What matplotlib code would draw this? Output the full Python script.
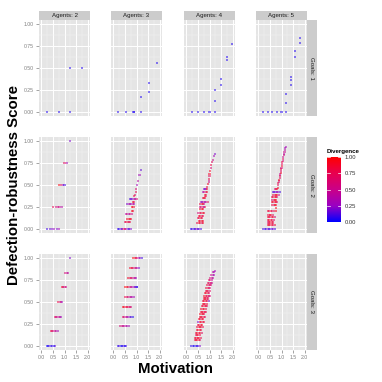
import matplotlib
matplotlib.use("Agg")
import matplotlib.pyplot as plt
from matplotlib.colors import LinearSegmentedColormap, Normalize
from matplotlib.colorbar import ColorbarBase

# ---------------- data (rows: y level, x values, divergence values) -------------
agents = [2, 3, 4, 5]
goals = [1, 2, 3]
x_ticks = [0.0, 0.5, 1.0, 1.5, 2.0]
y_ticks = [0.0, 0.25, 0.5, 0.75, 1.0]
cbar_ticks = [0.0, 0.25, 0.5, 0.75, 1.0]

g1a2_y = [0, 0.5]
g1a2_x = [[0.25, 0.75, 1.25], [1.25, 1.75]]
g1a2_c = [[0.05, 0.05, 0.05], [0.05, 0.05]]

g1a3_y = [0, 0.17, 0.22, 0.33, 0.56]
g1a3_x = [[0.2, 0.53, 0.87, 0.9, 1.2], [1.2], [1.53], [1.53], [1.87]]
g1a3_c = [[0.05, 0.05, 0.05, 0.05, 0.05], [0.05], [0.05], [0.05], [0.05]]

g1a4_y = [0, 0.125, 0.25, 0.31, 0.375, 0.59, 0.63, 0.78]
g1a4_x = [[0.25, 0.5, 0.75, 1.0, 1.25], [1.25], [1.25], [1.5], [1.5], [1.75], [1.75], [1.97]]
g1a4_c = [[0.05, 0.05, 0.05, 0.05, 0.05], [0.05], [0.05], [0.05], [0.05], [0.05], [0.05], [0.05]]

g1a5_y = [0, 0.1, 0.2, 0.3, 0.36, 0.4, 0.63, 0.69, 0.79, 0.84]
g1a5_x = [[0.2, 0.4, 0.6, 0.8, 1.0, 1.2], [1.2], [1.2], [1.4], [1.4], [1.4], [1.6], [1.6], [1.8], [1.8]]
g1a5_c = [[0.05] * 6, [0.05], [0.05], [0.05], [0.05], [0.05], [0.05], [0.05], [0.05], [0.05]]

g2a2_y = [0, 0.25, 0.5, 0.75, 1.0]
g2a2_x = [[0.26, 0.37, 0.47, 0.56, 0.66, 0.76], [0.5, 0.62, 0.7, 0.77, 0.87],
          [0.76, 0.83, 0.92, 1.0], [1.0, 1.1], [1.25]]
g2a2_c = [[0.1, 0.15, 0.2, 0.25, 0.2, 0.3], [0.75, 0.6, 0.5, 0.55, 0.4],
          [0.95, 0.7, 0.35, 0.1], [0.7, 0.3], [0.2]]

g2a3_y = [0, 0.08, 0.11, 0.17, 0.2, 0.25, 0.28, 0.31, 0.34, 0.37, 0.39, 0.42, 0.45, 0.5, 0.55, 0.61, 0.67]
g2a3_x = [[0.2, 0.26, 0.32, 0.38, 0.44, 0.5, 0.56, 0.62, 0.68, 0.74],
          [0.5, 0.56, 0.62, 0.68, 0.73], [0.6, 0.66, 0.72, 0.77],
          [0.55, 0.61, 0.67, 0.73, 0.8], [0.79, 0.84], [0.82, 0.87],
          [0.6, 0.66, 0.72, 0.78, 0.84, 0.9], [0.86, 0.9],
          [0.7, 0.76, 0.82, 0.88, 0.95, 1.0], [0.91], [0.94], [0.97], [0.99],
          [1.04], [1.06], [1.13], [1.21]]
g2a3_c = [[0.1, 0.05, 0.2, 0.1, 0.6, 0.8, 0.3, 0.15, 0.1, 0.2],
          [0.7, 0.8, 0.9, 0.6, 0.8], [0.9, 0.95, 0.85, 0.9],
          [0.4, 0.5, 0.3, 0.6, 0.5], [0.95, 0.9], [1.0, 0.9],
          [0.2, 0.3, 0.4, 0.25, 0.5, 0.3], [0.9, 0.8],
          [0.1, 0.2, 0.15, 0.4, 0.3, 0.6], [0.8], [0.7], [0.75], [0.6],
          [0.3], [0.4], [0.3], [0.15]]

g2a4_y = [0, 0.06, 0.09, 0.12, 0.15, 0.18, 0.22, 0.25, 0.28, 0.31, 0.35, 0.38, 0.42, 0.45,
          0.48, 0.51, 0.54, 0.57, 0.6, 0.63, 0.66, 0.7, 0.73, 0.76, 0.79, 0.83, 0.86]
g2a4_x = [[0.2, 0.26, 0.32, 0.38, 0.44, 0.5, 0.56, 0.62],
          [0.48, 0.54, 0.6, 0.66, 0.72], [0.55, 0.61, 0.67, 0.73],
          [0.5, 0.56, 0.62, 0.68], [0.55, 0.61, 0.67, 0.73],
          [0.52, 0.58, 0.64, 0.7, 0.76], [0.6, 0.66, 0.72],
          [0.58, 0.64, 0.7, 0.76, 0.82], [0.6, 0.66, 0.72, 0.78],
          [0.62, 0.68, 0.74, 0.8, 0.86, 0.92], [0.7, 0.76, 0.82], [0.8, 0.86],
          [0.72, 0.78, 0.84, 0.9], [0.75, 0.8, 0.85, 0.9],
          [0.91], [0.94], [0.96], [0.98], [1.0], [1.0], [1.03], [1.06], [1.08],
          [1.12], [1.15], [1.2], [1.23]]
g2a4_c = [[0.05, 0.1, 0.05, 0.1, 0.2, 0.1, 0.15, 0.1],
          [0.8, 0.9, 0.85, 0.7, 0.9], [0.9, 0.8, 0.95, 0.85],
          [0.7, 0.85, 0.9, 0.8], [0.85, 0.9, 0.7, 0.8],
          [0.6, 0.7, 0.8, 0.9, 0.85], [0.9, 0.85, 0.95],
          [0.5, 0.6, 0.7, 0.3, 0.8], [0.8, 0.85, 0.9, 0.6],
          [0.3, 0.2, 0.4, 0.3, 0.5, 0.7], [0.8, 0.9, 0.85], [0.9, 0.8],
          [0.3, 0.5, 0.7, 0.85], [0.2, 0.15, 0.3, 0.9],
          [0.8], [0.9], [0.5], [0.8], [0.7], [0.9], [0.9], [0.6], [0.8],
          [0.7], [0.5], [0.3], [0.2]]

g2a5_y = [0, 0.04, 0.07, 0.1, 0.13, 0.16, 0.2, 0.24, 0.27, 0.3, 0.33, 0.36, 0.39, 0.42, 0.45,
          0.47, 0.5, 0.52, 0.54, 0.56, 0.58, 0.6, 0.62, 0.64, 0.66, 0.68, 0.7, 0.72, 0.74,
          0.76, 0.78, 0.8, 0.82, 0.84, 0.86, 0.88, 0.9, 0.92, 0.935]
g2a5_x = [[0.22, 0.28, 0.34, 0.4, 0.46, 0.52, 0.58, 0.64, 0.7],
          [0.4, 0.46, 0.52, 0.58, 0.64, 0.7], [0.4, 0.46, 0.52, 0.58, 0.64],
          [0.42, 0.48, 0.54, 0.6, 0.66], [0.4, 0.46, 0.52, 0.58, 0.64, 0.7],
          [0.44, 0.5, 0.56, 0.62], [0.42, 0.48, 0.54, 0.6, 0.66, 0.78], [0.78],
          [0.6, 0.66, 0.72, 0.78], [0.58, 0.64, 0.7, 0.76, 0.82],
          [0.6, 0.66, 0.72, 0.78], [0.58, 0.64, 0.7, 0.76, 0.82],
          [0.64, 0.7, 0.76, 0.82, 0.88], [0.62, 0.68, 0.74, 0.8, 0.86, 0.92],
          [0.7, 0.76, 0.82], [0.83],
          [0.85], [0.86], [0.88], [0.9], [0.92], [0.94], [0.95], [0.96], [0.97],
          [0.98], [1.0], [1.01], [1.02], [1.03], [1.05], [1.06], [1.07], [1.09],
          [1.11], [1.13], [1.15], [1.17], [1.19]]
g2a5_c = [[0.1, 0.05, 0.1, 0.2, 0.05, 0.15, 0.1, 0.2, 0.1],
          [0.9, 0.85, 0.8, 0.9, 0.75, 0.85], [0.7, 0.8, 0.9, 0.85, 0.8],
          [0.8, 0.9, 0.85, 0.8, 0.7], [0.9, 0.8, 0.7, 0.85, 0.9, 0.6],
          [0.8, 0.9, 0.85, 0.7], [0.85, 0.8, 0.9, 0.7, 0.8, 0.95], [0.95],
          [0.8, 0.7, 0.9, 0.95], [0.85, 0.9, 0.8, 0.95, 0.7],
          [0.6, 0.8, 0.85, 0.95], [0.7, 0.9, 0.8, 0.95, 0.6],
          [0.8, 0.7, 0.9, 0.95, 0.5], [0.1, 0.2, 0.15, 0.3, 0.2, 0.1],
          [0.6, 0.8, 0.9], [0.9],
          [0.7], [0.8], [0.6], [0.9], [0.7], [0.8], [0.5], [0.9], [0.7],
          [0.8], [0.6], [0.9], [0.7], [0.8], [0.6], [0.7], [0.5], [0.6],
          [0.4], [0.5], [0.4], [0.3], [0.3]]

g3a2_y = [0, 0.17, 0.33, 0.5, 0.67, 0.83, 1.0]
g3a2_x = [[0.23, 0.29, 0.35, 0.41, 0.47, 0.53, 0.59], [0.4, 0.46, 0.52, 0.58, 0.64, 0.7],
          [0.57, 0.63, 0.69, 0.75, 0.81, 0.86], [0.73, 0.79, 0.85, 0.91],
          [0.88, 0.94, 1.0, 1.05], [1.04, 1.1, 1.15], [1.25]]
g3a2_c = [[0.05, 0.0, 0.1, 0.05, 0.1, 0.0, 0.15], [0.8, 0.7, 0.6, 0.5, 0.4, 0.3],
          [0.7, 0.6, 0.5, 0.5, 0.4, 0.3], [0.8, 0.6, 0.5, 0.3],
          [0.9, 0.7, 0.6, 0.5], [0.6, 0.5, 0.4], [0.2]]

g3a3_y = [0, 0.22, 0.33, 0.44, 0.56, 0.67, 0.78, 0.89, 1.0]
g3a3_x = [[0.2, 0.26, 0.32, 0.38, 0.44, 0.5, 0.56],
          [0.3, 0.36, 0.42, 0.48, 0.54, 0.6, 0.66],
          [0.41, 0.47, 0.53, 0.59, 0.65, 0.71, 0.77, 0.84],
          [0.41, 0.47, 0.53, 0.59, 0.65, 0.71, 0.74],
          [0.52, 0.58, 0.64, 0.7, 0.76, 0.82, 0.88],
          [0.52, 0.58, 0.64, 0.7, 0.76, 0.82, 0.88, 0.94, 1.0, 1.03],
          [0.64, 0.7, 0.76, 0.82, 0.88, 0.94, 0.97],
          [0.74, 0.8, 0.86, 0.92, 0.98, 1.04, 1.1],
          [0.86, 0.92, 0.98, 1.04, 1.1, 1.16, 1.22]]
g3a3_c = [[0.05, 0.1, 0.0, 0.05, 0.1, 0.0, 0.1],
          [0.6, 0.55, 0.5, 0.45, 0.4, 0.35, 0.3],
          [0.7, 0.6, 0.5, 0.4, 0.3, 0.2, 0.1, 0.05],
          [0.95, 0.9, 0.85, 0.8, 0.75, 0.7, 0.6],
          [0.8, 0.7, 0.6, 0.5, 0.4, 0.35, 0.3],
          [1.0, 0.95, 0.8, 0.6, 0.5, 0.4, 0.3, 0.2, 0.1, 0.05],
          [0.9, 0.8, 0.7, 0.6, 0.5, 0.4, 0.3],
          [0.9, 0.8, 0.7, 0.6, 0.5, 0.4, 0.2],
          [1.0, 0.9, 0.8, 0.6, 0.4, 0.2, 0.1]]

g3a4_y = [0, 0.06, 0.09, 0.12, 0.15, 0.18, 0.21, 0.24, 0.27, 0.3, 0.33, 0.36, 0.39, 0.42,
          0.45, 0.48, 0.51, 0.54, 0.57, 0.6, 0.63, 0.66, 0.69, 0.72, 0.75, 0.78, 0.81, 0.84, 0.86]
g3a4_x = [[0.22, 0.28, 0.34, 0.4, 0.46, 0.52, 0.58],
          [0.36, 0.42, 0.48, 0.54, 0.6], [0.38, 0.44, 0.5, 0.56, 0.62],
          [0.4, 0.46, 0.52, 0.58], [0.42, 0.48, 0.54, 0.6, 0.66],
          [0.45, 0.51, 0.57, 0.63], [0.47, 0.53, 0.59, 0.65, 0.71],
          [0.5, 0.56, 0.62, 0.68], [0.52, 0.58, 0.64, 0.7, 0.76],
          [0.55, 0.61, 0.67, 0.73], [0.57, 0.63, 0.69, 0.75, 0.81],
          [0.6, 0.66, 0.72, 0.78], [0.62, 0.68, 0.74, 0.8, 0.86],
          [0.65, 0.71, 0.77, 0.83], [0.67, 0.73, 0.79, 0.85, 0.91],
          [0.7, 0.76, 0.82, 0.88], [0.72, 0.78, 0.84, 0.9, 0.96],
          [0.75, 0.81, 0.87, 0.93], [0.78, 0.84, 0.9, 0.96, 1.0],
          [0.8, 0.86, 0.92, 0.98], [0.83, 0.89, 0.95, 1.01],
          [0.86, 0.92, 0.98, 1.04], [0.9, 0.96, 1.02, 1.08],
          [0.94, 1.0, 1.06, 1.1], [0.98, 1.04, 1.1], [1.03, 1.09, 1.14],
          [1.08, 1.14, 1.18], [1.15, 1.2], [1.22]]
g3a4_c = [[0.05, 0.1, 0.0, 0.1, 0.05, 0.1, 0.2],
          [0.8, 0.9, 0.85, 0.9, 0.7], [0.9, 0.8, 0.95, 0.85, 0.8],
          [0.7, 0.9, 0.85, 0.8], [0.85, 0.9, 0.8, 0.9, 0.7],
          [0.9, 0.85, 0.95, 0.8], [0.8, 0.9, 0.85, 0.9, 0.75],
          [0.9, 0.8, 0.85, 0.9], [0.2, 0.85, 0.9, 0.8, 0.85],
          [0.9, 0.85, 0.8, 0.9], [0.85, 0.9, 0.8, 0.85, 0.7],
          [0.9, 0.85, 0.9, 0.8], [0.85, 0.9, 0.8, 0.85, 0.75],
          [0.9, 0.85, 0.9, 0.8], [0.85, 0.8, 0.9, 0.85, 0.7],
          [0.9, 0.85, 0.8, 0.85], [0.8, 0.9, 0.85, 0.8, 0.2],
          [0.85, 0.9, 0.8, 0.75], [0.9, 0.85, 0.8, 0.7, 0.6],
          [0.85, 0.9, 0.8, 0.7], [0.8, 0.85, 0.75, 0.7],
          [0.85, 0.8, 0.7, 0.6], [0.8, 0.7, 0.75, 0.6],
          [0.75, 0.7, 0.6, 0.5], [0.7, 0.6, 0.5], [0.6, 0.5, 0.4],
          [0.5, 0.4, 0.3], [0.4, 0.3], [0.3]]

g3a5_y, g3a5_x, g3a5_c = [], [], []

panels = {
    (1, 2): (g1a2_y, g1a2_x, g1a2_c), (1, 3): (g1a3_y, g1a3_x, g1a3_c),
    (1, 4): (g1a4_y, g1a4_x, g1a4_c), (1, 5): (g1a5_y, g1a5_x, g1a5_c),
    (2, 2): (g2a2_y, g2a2_x, g2a2_c), (2, 3): (g2a3_y, g2a3_x, g2a3_c),
    (2, 4): (g2a4_y, g2a4_x, g2a4_c), (2, 5): (g2a5_y, g2a5_x, g2a5_c),
    (3, 2): (g3a2_y, g3a2_x, g3a2_c), (3, 3): (g3a3_y, g3a3_x, g3a3_c),
    (3, 4): (g3a4_y, g3a4_x, g3a4_c), (3, 5): (g3a5_y, g3a5_x, g3a5_c),
}

# ---------------- style ----------------
cmap = LinearSegmentedColormap.from_list(
    "div", [(0, "#0000FF"), (0.25, "#9A00C2"), (0.5, "#CA0088"), (0.75, "#E8004F"), (1, "#FF0000")])
norm = Normalize(0, 1)
FONT = "Liberation Sans"
W = H = 382.0
fig = plt.figure(figsize=(3.82, 3.82), dpi=100)

col_left = [39, 111, 184, 256]
row_top = [20, 137, 254]
pw, ph = 51, 96


def frac(left, top, w, h):
    return [left / W, 1 - (top + h) / H, w / W, h / H]


for gi, g in enumerate(goals):
    for ai, a in enumerate(agents):
        ax = fig.add_axes(frac(col_left[ai], row_top[gi], pw, ph))
        ax.set_facecolor("#E5E5E5")
        ax.set_xlim(-0.1, 2.1)
        ax.set_ylim(-0.05, 1.05)
        ax.set_xticks(x_ticks)
        ax.set_yticks(y_ticks)
        ax.set_xticks([0.25, 0.75, 1.25, 1.75], minor=True)
        ax.set_yticks([0.125, 0.375, 0.625, 0.875], minor=True)
        ax.grid(which="major", color="white", lw=0.7)
        ax.grid(which="minor", color="#F2F2F2", lw=0.35)
        ax.set_axisbelow(True)
        for s in ax.spines.values():
            s.set_visible(False)
        ax.tick_params(which="minor", length=0)
        ax.tick_params(which="major", length=2.5, width=0.5, color="#7F7F7F",
                       labelsize=3.7, labelcolor="#7F7F7F", pad=1.2)
        if ai == 0:
            ax.set_yticklabels([f"{v:.2f}" for v in y_ticks], fontfamily=FONT)
        else:
            ax.tick_params(axis="y", left=False, labelleft=False)
        if gi == 2:
            ax.set_xticklabels([f"{v:.1f}" for v in x_ticks], fontfamily=FONT)
        else:
            ax.tick_params(axis="x", bottom=False, labelbottom=False)

        ys, xs, cs = panels[(g, a)]
        px, py, pc = [], [], []
        for yv, xrow, crow in zip(ys, xs, cs):
            for xv, cv in zip(xrow, crow):
                px.append(xv)
                py.append(yv)
                pc.append(cv)
        if px:
            ax.scatter(px, py, c=pc, cmap=cmap, norm=norm, s=2.2, marker="s",
                       linewidths=0, alpha=0.5, zorder=3)

        if gi == 0:
            sax = fig.add_axes(frac(col_left[ai], 11, pw, 9))
            sax.set_facecolor("#CCCCCC")
            sax.set_xticks([]); sax.set_yticks([])
            for s in sax.spines.values():
                s.set_visible(False)
            sax.text(0.5, 0.5, f"Agents: {a}", ha="center", va="center",
                     fontsize=4.4, color="#1A1A1A", fontfamily=FONT, transform=sax.transAxes)
    rax = fig.add_axes(frac(307, row_top[gi], 10, ph))
    rax.set_facecolor("#CCCCCC")
    rax.set_xticks([]); rax.set_yticks([])
    for s in rax.spines.values():
        s.set_visible(False)
    rax.text(0.5, 0.5, f"Goals: {g}", ha="center", va="center", rotation=-90,
             fontsize=4.4, color="#1A1A1A", fontfamily=FONT, transform=rax.transAxes)

fig.text(14 / W, 1 - 185 / H, "Defection-robustness Score", rotation=90, ha="center",
         va="center", fontsize=10.8, fontweight="bold", fontfamily=FONT)
fig.text(175 / W, 1 - 369 / H, "Motivation", ha="center", va="center",
         fontsize=10.8, fontweight="bold", fontfamily=FONT)

cax = fig.add_axes(frac(327, 157, 14, 65))
cb = ColorbarBase(cax, cmap=cmap, norm=norm, orientation="vertical", ticks=cbar_ticks)
cb.outline.set_visible(False)
cax.tick_params(length=0, labelsize=4.2, labelcolor="#333333", pad=2.5)
cax.set_yticklabels([f"{v:.2f}" for v in cbar_ticks], fontfamily=FONT)
for t in cbar_ticks:
    cax.plot([0, 0.2], [t, t], color="white", lw=0.5, transform=cax.get_yaxis_transform())
    cax.plot([0.8, 1.0], [t, t], color="white", lw=0.5, transform=cax.get_yaxis_transform())
fig.text(327 / W, 1 - 152 / H, "Divergence", ha="left", va="center", fontsize=4.4,
         fontweight="bold", fontfamily=FONT)

fig.savefig("out.png", dpi=100)
